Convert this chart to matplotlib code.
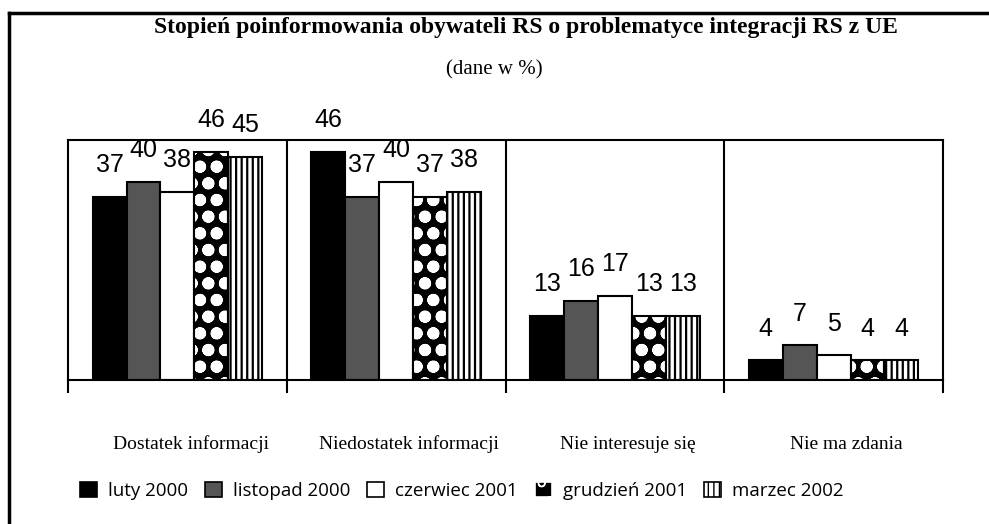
import matplotlib
matplotlib.use('Agg')
import matplotlib.pyplot as plt
from matplotlib.patches import Patch
from matplotlib.lines import Line2D
import numpy as np

# data
categories = ['Dostatek informacji', 'Niedostatek informacji', 'Nie interesuje się', 'Nie ma zdania']
series = ['luty 2000', 'listopad 2000', 'czerwiec 2001', 'grudzień 2001', 'marzec 2002']
luty_2000 = [37, 46, 13, 4]
listopad_2000 = [40, 37, 16, 7]
czerwiec_2001 = [38, 40, 17, 5]
grudzien_2001 = [46, 37, 13, 4]
marzec_2002 = [45, 38, 13, 4]
values = [luty_2000, listopad_2000, czerwiec_2001, grudzien_2001, marzec_2002]

title = 'Stopień poinformowania obywateli RS o problematyce integracji RS z UE'
subtitle = '(dane w %)'

# fill styles: face, hatch colour, hatch, hatch width
styles = [
    dict(fc='black', hc='black', hatch=None, hlw=1.0),
    dict(fc='#555555', hc='#555555', hatch=None, hlw=1.0),
    dict(fc='white', hc='white', hatch=None, hlw=1.0),
    dict(fc='black', hc='white', hatch='o', hlw=4.0),
    dict(fc='white', hc='black', hatch='|||', hlw=1.6),
]

sans = ['Liberation Sans', 'DejaVu Sans']
serif = ['Liberation Serif', 'DejaVu Serif']

fig = plt.figure(figsize=(9.89, 5.24), dpi=100)
ax = fig.add_axes([0.0688, 0.2748, 0.8847, 0.458])

x = np.arange(len(categories))
w = 0.155
for i, (vals, st) in enumerate(zip(values, styles)):
    pos = x + (i - 2) * w
    with plt.rc_context({'hatch.linewidth': st['hlw']}):
        bars = ax.bar(pos, vals, w, facecolor=st['fc'], edgecolor=st['hc'],
                      hatch=st['hatch'], linewidth=0)
    ax.bar(pos, vals, w, fill=False, edgecolor='black', linewidth=1.5)
    for b, v in zip(bars, vals):
        ax.annotate(str(v), (b.get_x() + b.get_width() / 2, v), xytext=(0, 14),
                    textcoords='offset points', ha='center', va='bottom',
                    fontsize=18, family=sans)

for s in ax.spines.values():
    s.set_linewidth(1.5)
for b in [0.5, 1.5, 2.5]:
    ax.axvline(b, color='black', lw=1.5)

ax.set_xlim(-0.5, 3.5)
ax.set_ylim(0, 48.4)
ax.set_yticks([])
ax.set_xticks([-0.5, 0.5, 1.5, 2.5, 3.5])
ax.set_xticklabels([])
ax.tick_params(axis='x', which='major', direction='out', length=9, width=1.5)
ax.set_xticks(x + 0.06, minor=True)
ax.set_xticklabels(categories, minor=True, fontsize=14, family=serif)
ax.tick_params(axis='x', which='minor', length=0, pad=40)

fig.text(0.532, 0.947, title, ha='center', va='center', fontsize=17,
         weight='bold', family=serif)
fig.text(0.500, 0.866, subtitle, ha='center', va='center', fontsize=15, family=serif)

# outer frame (top and left edges only)
fig.add_artist(Line2D([0.009, 1.0], [0.975, 0.975], color='black', lw=2.5))
fig.add_artist(Line2D([0.009, 0.009], [0.0, 0.975], color='black', lw=2.5))

handles = []
for st in styles:
    edge = 'white' if st['hc'] == 'white' and st['fc'] == 'black' else 'black'
    handles.append(Patch(facecolor=st['fc'], edgecolor=edge, hatch=st['hatch'],
                         linewidth=1.2))
fig.legend(handles, series, loc='center', bbox_to_anchor=(0.467, 0.063), ncol=5,
           frameon=False, prop={'family': ['Open Sans', 'DejaVu Sans'], 'size': 13.5},
           handlelength=0.9, handleheight=0.9, handletextpad=0.6, columnspacing=0.9)

fig.savefig('out.png', dpi=100)
